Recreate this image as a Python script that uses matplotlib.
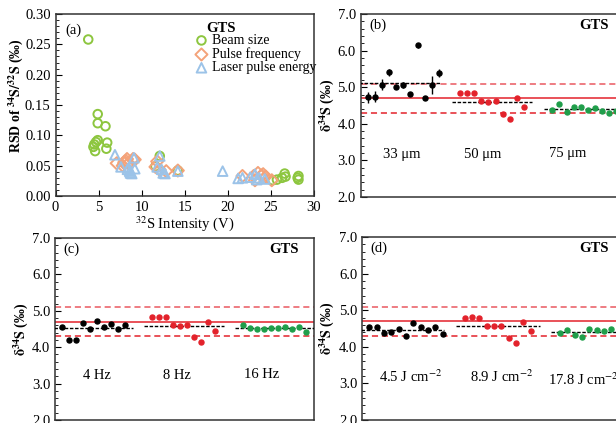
import numpy as np
import matplotlib.pyplot as plt
from matplotlib.ticker import MultipleLocator, FormatStrFormatter

plt.rcParams['font.family'] = ['Liberation Serif', 'DejaVu Serif']
plt.rcParams['mathtext.fontset'] = 'stix'
plt.rcParams['font.size'] = 10.5

# (a) RSD vs 32S intensity
beam_x = [3.8, 4.9, 4.9, 5.8, 6.0, 5.9, 4.9, 4.7, 4.5, 4.4, 4.6, 12.1, 11.6, 14.2,
          25.7, 26.3, 26.6, 26.7, 28.2, 28.2, 28.1, 25.2]
beam_y = [0.258, 0.135, 0.120, 0.115, 0.088, 0.078, 0.092, 0.089, 0.085, 0.081, 0.074,
          0.066, 0.049, 0.042, 0.027, 0.030, 0.037, 0.032, 0.033, 0.027, 0.030, 0.026]
freq_x = [7.1, 8.0, 8.3, 8.15, 7.96, 7.8, 8.5, 9.0, 9.2, 11.8, 11.6, 12.1, 12.85, 14.2,
          21.7, 23.0, 23.5, 23.9, 24.1, 24.4, 25.1, 23.15]
freq_y = [0.054, 0.056, 0.061, 0.058, 0.054, 0.050, 0.054, 0.061, 0.060, 0.057, 0.048,
          0.043, 0.041, 0.042, 0.033, 0.033, 0.038, 0.034, 0.036, 0.032, 0.026, 0.026]
energy_x = [6.9, 7.6, 8.5, 8.6, 8.7, 8.85, 8.35, 9.1, 9.2, 11.8, 12.1, 12.3, 12.5, 12.7,
            14.2, 19.4, 21.2, 21.7, 22.6, 23.15, 23.35, 23.65, 24.3]
energy_y = [0.068, 0.048, 0.047, 0.041, 0.038, 0.037, 0.044, 0.063, 0.045, 0.048, 0.066,
            0.044, 0.038, 0.037, 0.041, 0.041, 0.029, 0.030, 0.031, 0.036, 0.027, 0.030, 0.028]

# (b) beam size
b_33 = [4.72, 4.74, 5.07, 5.41, 5.01, 5.07, 4.82, 6.14, 4.71, 5.06, 5.39]
b_33_err = [0.15, 0.15, 0.15, 0.1, 0.05, 0.08, 0.05, 0.08, 0.05, 0.25, 0.1]
b_50 = [4.83, 4.84, 4.83, 4.61, 4.60, 4.61, 4.28, 4.14, 4.71, 4.45]
b_75 = [4.39, 4.55, 4.33, 4.46, 4.46, 4.39, 4.42, 4.36, 4.30, 4.35]

# (c) pulse frequency
c_4 = [4.56, 4.20, 4.20, 4.66, 4.51, 4.73, 4.56, 4.63, 4.49, 4.61]
c_8 = [4.82, 4.84, 4.82, 4.61, 4.58, 4.61, 4.28, 4.13, 4.70, 4.44]
c_16 = [4.61, 4.52, 4.50, 4.50, 4.52, 4.52, 4.56, 4.50, 4.56, 4.42]

# (d) laser pulse energy
d_45 = [4.53, 4.55, 4.39, 4.41, 4.48, 4.29, 4.64, 4.55, 4.45, 4.55, 4.35]
d_89 = [4.80, 4.81, 4.79, 4.58, 4.57, 4.58, 4.25, 4.10, 4.68, 4.42]
d_178 = [4.39, 4.45, 4.33, 4.27, 4.48, 4.46, 4.42, 4.48]

ref_value = 4.7
ref_lo, ref_hi = 4.3, 5.1

GREEN_A = '#8dc63f'
ORANGE_A = '#f4a37a'
BLUE_A = '#9cc3e8'
RED = '#e3222b'
GREEN = '#1f9e4a'

fig = plt.figure(figsize=(6.16, 4.23), dpi=100)


def style_axis(ax):
    for s in ax.spines.values():
        s.set_color('#333333')
        s.set_linewidth(1.1)
    ax.tick_params(direction='in', which='both', top=False, right=False)
    ax.tick_params(which='major', length=4)
    ax.tick_params(which='minor', length=2)


# ---- panel (a)
ax = fig.add_axes([0.0901, 0.5366, 0.4196, 0.4303])
ax.scatter(beam_x, beam_y, s=38, facecolors='none', edgecolors=GREEN_A, linewidths=1.4,
           marker='o', label='Beam size', zorder=3)
ax.scatter(freq_x, freq_y, s=38, facecolors='none', edgecolors=ORANGE_A, linewidths=1.4,
           marker='D', label='Pulse frequency', zorder=3)
ax.scatter(energy_x, energy_y, s=48, facecolors='none', edgecolors=BLUE_A, linewidths=1.4,
           marker='^', label='Laser pulse energy', zorder=3)
ax.set_xlim(0, 30)
ax.set_ylim(0, 0.30)
ax.xaxis.set_major_locator(MultipleLocator(5))
ax.yaxis.set_major_locator(MultipleLocator(0.05))
ax.yaxis.set_minor_locator(MultipleLocator(0.01))
ax.yaxis.set_major_formatter(FormatStrFormatter('%.2f'))
style_axis(ax)
ax.set_xlabel(r'$^{32}$S Intensity (V)', labelpad=0)
ax.set_ylabel(r'RSD of $\mathbf{^{34}S/^{32}S}$ (‰)', fontweight='bold', fontsize=10)
ax.yaxis.set_label_coords(-0.118, 0.55)
ax.text(0.04, 0.95, '(a)', transform=ax.transAxes, va='top', ha='left')
ax.text(0.585, 0.955, 'GTS', transform=ax.transAxes, va='top', ha='left', fontweight='bold')
ax.legend(loc='upper right', bbox_to_anchor=(1.02, 0.905), frameon=False, fontsize=10,
          handletextpad=0.15, labelspacing=0.02, borderpad=0.2, handlelength=1.2,
          borderaxespad=0)


def delta_panel(rect, groups, labels, tag, label_pos, gts_x, label_x, errs=None):
    ax = fig.add_axes(rect)
    colors = ['black', RED, GREEN]
    starts = [1, 14, 27]
    for k, vals in enumerate(groups):
        x = starts[k] + np.arange(len(vals))
        e = None if errs is None else errs[k]
        ax.errorbar(x, vals, yerr=e, fmt='o', ms=3.6, color=colors[k], ecolor=colors[k],
                    elinewidth=1.0, capsize=0, zorder=4)
        m = np.mean(vals)
        ax.plot([x[0] - 1.2, x[0] + 10.2], [m, m], color='black', lw=1.0,
                ls=(0, (2.5, 1.2)), zorder=3)
    ax.axhline(ref_value, color=RED, lw=1.1, zorder=2)
    ax.axhline(ref_hi, color=RED, lw=1.1, ls=(0, (4, 2.5)), alpha=0.75, zorder=2)
    ax.axhline(ref_lo, color=RED, lw=1.1, ls=(0, (4, 2.5)), zorder=2)
    ax.set_xlim(0, 37.2)
    ax.set_ylim(2, 7)
    ax.set_xticks([])
    ax.yaxis.set_major_locator(MultipleLocator(1))
    ax.yaxis.set_minor_locator(MultipleLocator(0.2))
    ax.yaxis.set_major_formatter(FormatStrFormatter('%.1f'))
    style_axis(ax)
    ax.set_ylabel(r'$\mathbf{\delta^{34}S}$ (‰)', fontweight='bold', fontsize=10)
    ax.yaxis.set_label_coords(label_x, 0.5)
    for (lx, ly), txt in zip(label_pos, labels):
        ax.text(lx, ly, txt, ha='center', va='center')
    ax.text(1.2, 6.7, tag, ha='left', va='center')
    ax.text(gts_x, 6.68, 'GTS', ha='center', va='center', fontweight='bold')
    return ax


delta_panel([0.5856, 0.5343, 0.4286, 0.4326], [b_33, b_50, b_75],
            ['33 μm', '50 μm', '75 μm'], '(b)',
            [(5.8, 3.15), (17.2, 3.15), (29.2, 3.19)], 32.8, -0.094,
            errs=[b_33_err, None, None])
delta_panel([0.0893, 0.0071, 0.4205, 0.4303], [c_4, c_8, c_16],
            ['4 Hz', '8 Hz', '16 Hz'], '(c)',
            [(6.0, 3.22), (17.5, 3.22), (29.7, 3.24)], 32.9, -0.097)
delta_panel([0.5877, 0.0071, 0.443, 0.4326], [d_45, d_89, d_178],
            [r'4.5 J cm$^{-2}$', r'8.9 J cm$^{-2}$', r'17.8 J cm$^{-2}$'], '(d)',
            [(6.7, 3.19), (19.0, 3.19), (30.2, 3.09)], 31.6, -0.095)

fig.savefig('out.png', dpi=100)
